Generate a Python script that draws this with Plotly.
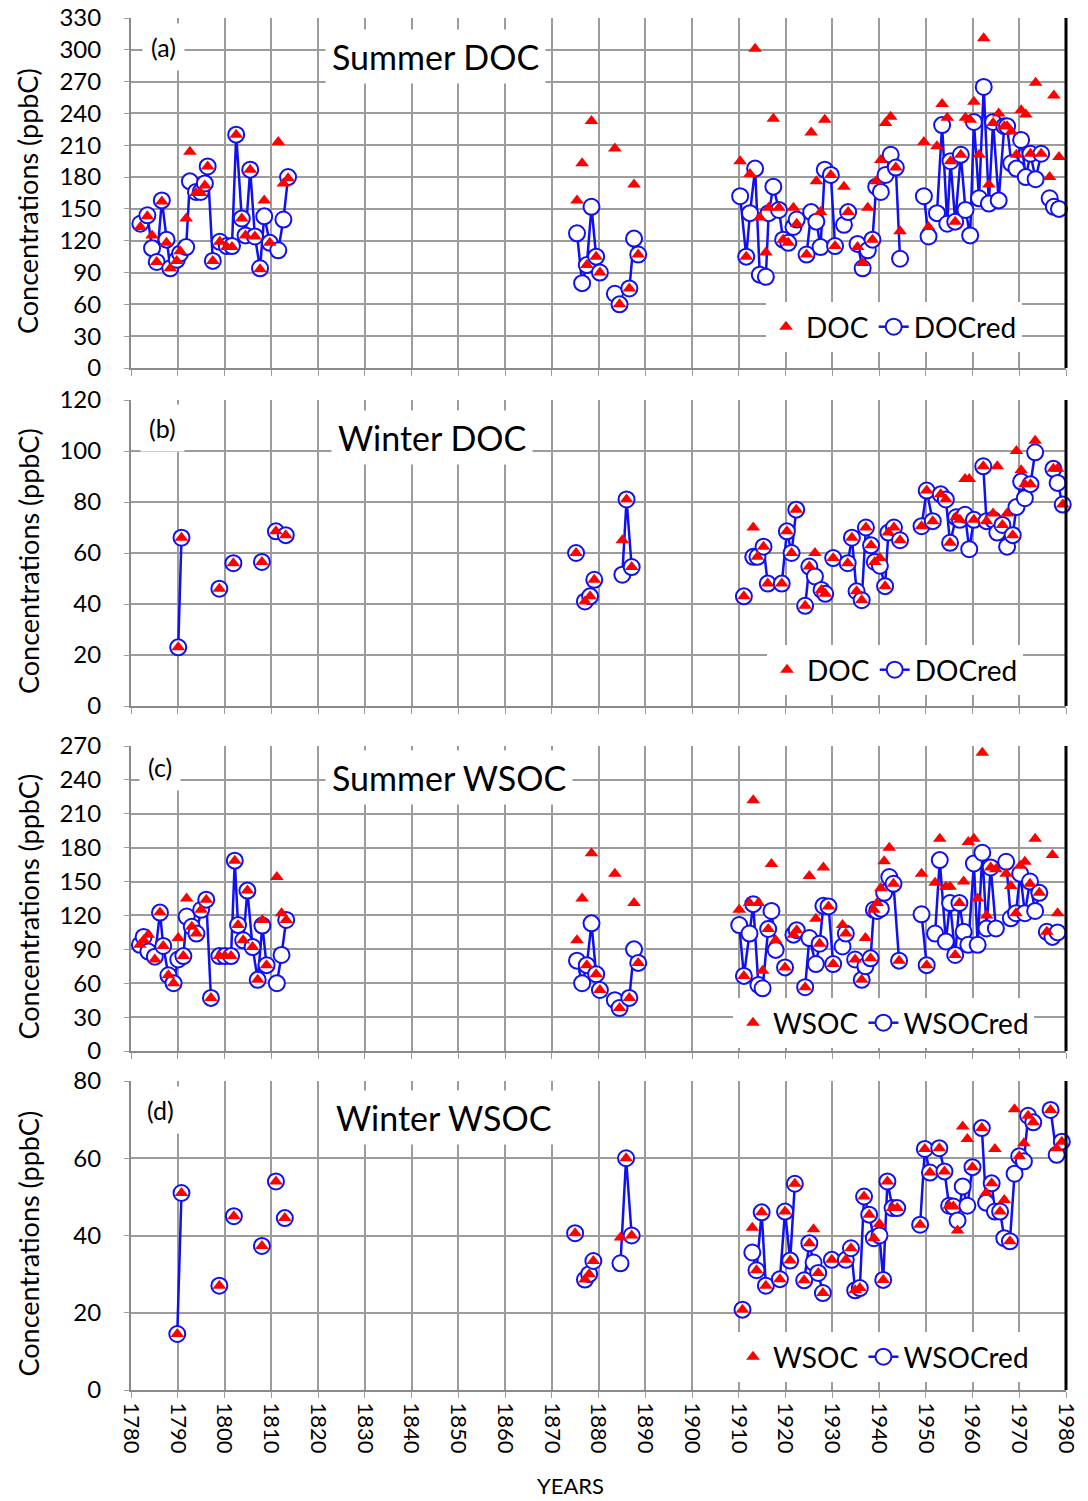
import plotly.graph_objects as go

N = None
# ---------------- Panel (a) Summer DOC ----------------
a_years = [1782.0, 1783.5, 1784.5, 1785.5, 1786.6, 1787.6, 1788.4, 1789.8, 1790.5, 1791.8, 1792.6, 1793.9,
           1794.9, 1795.8, 1796.4, 1797.5, 1798.3, 1799.0, 1800.5, 1801.6, 1802.5, 1803.7, 1804.5, 1805.5,
           1806.5, 1807.6, 1808.5, 1809.7, 1810.6, 1811.5, 1812.6, 1813.6, 1840.0,
           1875.4, 1876.5, 1877.5, 1878.5, 1879.5, 1880.3, 1881.5, 1883.5, 1884.5, 1885.5, 1886.6, 1887.6,
           1888.5, 1900.0,
           1910.3, 1911.6, 1912.4, 1913.5, 1914.5, 1915.8, 1916.4, 1917.4, 1918.6, 1919.5, 1920.6, 1921.7,
           1922.4, 1923.4, 1924.5, 1925.5, 1926.6, 1927.5, 1928.4, 1929.7, 1930.6, 1931.5, 1932.5, 1933.4,
           1934.4, 1935.4, 1936.5, 1937.6, 1938.6, 1939.4, 1940.4, 1941.4, 1942.5, 1943.6, 1944.5, 1947.0,
           1949.6, 1950.6, 1951.5, 1952.4, 1953.5, 1954.6, 1955.3, 1956.3, 1957.5, 1958.5, 1959.5, 1960.3,
           1961.4, 1962.4, 1963.5, 1964.4, 1965.6, 1966.8, 1967.4, 1968.3, 1969.4, 1970.4, 1971.4, 1972.4,
           1973.5, 1974.7, 1975.5, 1976.5, 1977.4, 1978.5]
a_doc = [133, 143, 125, 100, 157, 118, 94, 101, 110, 141, 204, 165,
         165, 172, 190, 101, N, 119, 114, 114, 220, 141, 125, 187,
         124, 93, 158, 118, N, 213, 174, 179, N,
         158, 193, 97, 233, 105, 90, N, 207, 60, N, 75, 173,
         107, N,
         195, 105, 183, 301, 142, 109, 151, 235, 151, 121, 118, 151,
         136, N, 107, 222, 176, 147, 234, 182, 115, N, 171, 147,
         N, 114, 99, 151, 121, 176, 196, 231, 237, 189, 129, N,
         213, 133, N, 209, 249, 236, 195, 138, 201, 236, 234, 251,
         201, 311, 173, 231, 240, 228, 228, 223, 201, 243, 239, 202,
         269, 202, N, 180, 257, 199]
a_docred = [136, 144, 113, 100, 158, 121, 94, 102, 108, 114, 176, 166,
            166, 174, 190, 101, N, 119, 115, 115, 220, 141, 125, 187,
            124, 94, 143, 118, N, 111, 140, 180, N,
            127, 80, 97, 152, 105, 90, N, 70, 60, N, 75, 122,
            107, N,
            162, 105, 146, 188, 88, 86, 146, 171, 149, 121, 118, 133,
            140, N, 107, 147, 138, 114, 187, 182, 115, N, 135, 147,
            N, 117, 94, 111, 121, 171, 166, 182, 201, 189, 103, N,
            162, 124, N, 146, 229, 136, 195, 138, 201, 149, 125, 232,
            160, 265, 155, 232, 158, 228, 228, 193, 188, 215, 180, 202,
            178, 202, N, 160, 152, 150]

# ---------------- Panel (b) Winter DOC ----------------
b_years = [1790.1, 1790.8, 1795.0, 1798.9, 1800.5, 1801.9, 1805.0, 1808.0, 1809.5, 1811.0, 1812.0, 1813.1, 1840.0,
           1875.2, 1876.2, 1877.1, 1878.2, 1879.1, 1882.0, 1885.1, 1886.0, 1887.1, 1900.0,
           1911.1, 1912.1, 1913.1, 1914.0, 1915.3, 1916.2, 1917.5, 1919.2, 1920.3, 1921.3, 1922.3, 1923.2,
           1924.2, 1925.1, 1926.3, 1927.7, 1928.5, 1929.3, 1930.2, 1931.5, 1933.3, 1934.2, 1935.2, 1936.3,
           1937.2, 1938.3, 1939.1, 1940.2, 1941.3, 1942.0, 1943.2, 1944.5, 1947.0,
           1949.1, 1950.2, 1951.5, 1952.3, 1953.2, 1954.3, 1955.2, 1956.5, 1957.3, 1958.4, 1959.3, 1960.3,
           1961.3, 1962.3, 1963.0, 1964.4, 1965.3, 1966.4, 1967.4, 1968.6, 1969.4, 1970.4, 1971.2, 1972.4,
           1973.4, 1975.5, 1977.3, 1978.2, 1979.3]
b_doc = [23, 66, N, 46, N, 56, N, 56.5, N, 68.5, N, 67, N,
         60, N, 41, 43, 49.5, N, 65, 81, 54.5, N,
         43, N, 70, 58.5, 62.5, 48, N, 48, 68.5, 60, 77, N,
         39.3, 54.7, 60, 45.5, 44, N, 58, N, 56, 66, 45, 41.5,
         70, 63, 56.5, 58, 47, 68, 70, 65, N,
         70.5, 84.5, 72.5, N, 83, 81, 64, 74, 73, 89, 89, 73,
         N, 94, 72.5, 75.5, 94, 71, 75.5, 67, 100, 92.5, 87, 87,
         104, N, 93, 93, 79]
b_docred = [23, 66, N, 46, N, 56, N, 56.5, N, 68.5, N, 67, N,
            60, N, 41, 43, 49.5, N, 51.5, 81, 54.5, N,
            43, N, 58.5, 58.5, 62.5, 48, N, 48, 68.5, 60, 77, N,
            39.3, 54.7, 50.8, 45.5, 44, N, 58, N, 56, 66, 45, 41.5,
            70, 63, 56.5, 55, 47, 68, 70, 65, N,
            70.5, 84.5, 72.5, N, 83, 81, 64, 74, 73, 75, 61.5, 73,
            N, 94, 72.5, 73, 68, 71, 62.5, 67, 78, 88, 81.5, 87,
            99.5, N, 93, 87.5, 79]

# ---------------- Panel (c) Summer WSOC ----------------
c_years = [1781.9, 1782.7, 1783.7, 1785.1, 1786.2, 1786.9, 1788.0, 1789.1, 1790.1, 1791.2, 1791.9, 1793.0,
           1794.0, 1795.0, 1796.1, 1797.1, 1798.0, 1798.9, 1800.1, 1801.4, 1802.2, 1802.9, 1804.0, 1804.9,
           1806.0, 1807.1, 1808.1, 1809.0, 1810.1, 1811.2, 1812.2, 1813.2, 1840.0,
           1875.4, 1876.5, 1877.5, 1878.5, 1879.5, 1880.3, 1881.5, 1883.5, 1884.5, 1885.5, 1886.6, 1887.6,
           1888.5, 1900.0,
           1910.1, 1911.1, 1912.3, 1913.1, 1914.2, 1915.1, 1916.3, 1917.0, 1917.9, 1918.9, 1919.9, 1920.8,
           1921.7, 1922.4, 1923.3, 1924.2, 1925.1, 1926.5, 1927.3, 1928.1, 1929.2, 1930.2, 1931.2, 1932.2,
           1932.9, 1933.9, 1934.9, 1936.3, 1937.1, 1938.2, 1938.9, 1939.6, 1940.4, 1941.1, 1942.2, 1943.1,
           1944.3, 1947.0, 1949.1, 1950.2, 1951.1, 1952.0, 1953.0, 1954.3, 1955.2, 1956.3, 1957.2, 1958.1,
           1959.1, 1960.3, 1961.1, 1962.1, 1963.0, 1963.9, 1965.0, 1966.1, 1967.2, 1968.2, 1969.3, 1970.2,
           1971.2, 1972.3, 1973.4, 1974.3, 1975.1, 1975.9, 1977.1, 1978.2]
c_wsoc = [94, 98, 103, 81, 122.5, 93, 67, 60, 100, 84, 135, 110,
          104, 125, 134, 47, N, 84, 84, 84, 168.5, 111.5, 98, 142,
          92, 63, 116, 76, N, 154, 122, 116, N,
          98, 135, 76, 175, 68, 54, N, 157, 38, N, 47, 131,
          78, N,
          125, 66.5, 131, 222, 131, 71, 108, 165.5, 98, N, 74, N,
          103, 107, N, 56.5, 155, 117, 95, 162.5, 128, 77, N, 111.5,
          104, N, 81, 63, 100, 82, 125, 131, 144, 168, 180, 148,
          80, N, 157, 76, N, 149, 188, 145.5, 145.5, 85, 131, 150,
          185, 188, 135, 264, 120, 162.5, 161, N, 157, 146, 122, 164,
          167.5, 148, 188, 140, N, 105.5, 173.5, 122]
c_wsocred = [94, 101, 88, 83.5, 122.5, 93, 67, 60, 81, 84, 119, 110,
             104, 125, 134, 47, N, 84, 84, 84, 168.5, 111.5, 98, 142,
             92, 63, 111, 76, N, 60, 85, 116, N,
             80, 60, 76, 113, 68, 54, N, 45, 38, N, 47, 90,
             78, N,
             111.5, 66.5, 104, 130, 58.5, 55.5, 108, 124, 89.5, N, 74, N,
             103, 107, N, 56.5, 100, 77, 95, 128.5, 128, 77, N, 92.5,
             104, N, 81, 63, 75, 82, 125, 124, 126, 140, 154, 148,
             80, N, 121, 76, N, 104, 169, 97, 131, 85, 131, 105.5,
             94, 166, 94, 175.5, 108.5, 162.5, 108.5, N, 167.5, 117.5, 122, 157,
             122, 150, 124, 140, N, 105.5, 101, 105]

# ---------------- Panel (d) Winter WSOC ----------------
d_years = [1789.9, 1790.8, 1795.0, 1798.9, 1800.5, 1802.0, 1805.0, 1808.0, 1809.5, 1811.0, 1812.0, 1812.9, 1840.0,
           1875.0, 1876.0, 1877.1, 1878.0, 1878.9, 1882.0, 1884.7, 1885.9, 1887.1, 1900.0,
           1910.8, 1911.9, 1912.9, 1913.8, 1914.9, 1915.8, 1917.3, 1918.8, 1919.9, 1921.0, 1922.0, 1923.0,
           1924.0, 1925.1, 1926.0, 1927.0, 1928.0, 1929.0, 1929.9, 1931.4, 1932.9, 1934.0, 1934.9, 1935.9,
           1936.8, 1937.9, 1938.9, 1940.1, 1940.9, 1941.8, 1942.9, 1943.9, 1946.0,
           1948.8, 1949.8, 1950.9, 1951.9, 1952.9, 1954.0, 1955.0, 1955.9, 1956.8, 1957.9, 1958.9, 1960.0,
           1961.0, 1962.0, 1962.9, 1964.1, 1964.8, 1965.9, 1966.8, 1968.0, 1969.0, 1970.0, 1971.0, 1971.9,
           1973.0, 1975.0, 1976.7, 1978.0, 1979.1]
d_wsoc = [14.5, 51, N, 27, N, 45, N, 37.3, N, 54, N, 44.5, N,
          40.6, N, 28.6, 30, 33.4, N, 39.5, 60, 40, N,
          20.8, N, 42, 31, 46, 27, N, 28.7, 46.2, 33.5, 53.4, N,
          28.4, 38, 41.6, 30.3, 25.1, N, 33.7, N, 33.7, 36.7, 25.8, 26.4,
          50.1, 45.4, 39.3, 43, 28.5, 54, 47.1, 47.1, N,
          42.8, 62.4, 56.3, N, 62.6, 56.6, 47.7, 47.5, 41.3, 68.2, 65, 57.7,
          N, 67.8, 51, 53.5, 62.4, 46.2, 49.2, 38.5, 72.7, 60.5, 63.9, 71,
          69.3, N, 72.5, 62.6, 64.3]
d_wsocred = [14.5, 51, N, 27, N, 45, N, 37.3, N, 54, N, 44.5, N,
             40.6, N, 28.6, 30, 33.4, N, 32.8, 60, 40, N,
             20.8, N, 35.6, 31, 46, 27, N, 28.7, 46.2, 33.5, 53.4, N,
             28.4, 38, 33, 30.3, 25.1, N, 33.7, N, 33.7, 36.7, 25.8, 26.4,
             50.1, 45.4, 39.3, 40, 28.5, 54, 47.1, 47.1, N,
             42.8, 62.4, 56.3, N, 62.6, 56.6, 47.7, 47.5, 43.9, 52.7, 47.7, 57.7,
             N, 67.8, 48.5, 53.5, 46.2, 46.2, 39.3, 38.5, 56, 60.5, 59.2, 71,
             69.3, N, 72.5, 60.9, 64.3]

x_ticks = list(range(1780, 1981, 10))

# ---------------- layout helpers ----------------
# body margin is removed by a small post script, so the figure fills the window from (0, 0)
OFF = 0
W, H = 1088, 1501
ML, MR, MT, MB = 131, 22, 18, 111
PW, PH = W - ML - MR, H - MT - MB


def px(x):  # screenshot pixel x -> paper fraction
    return (x - OFF - ML) / PW


def py(y):  # screenshot pixel y -> paper fraction
    return (H - MB - (y - OFF)) / PH


FONT = "Lato, 'Open Sans', sans-serif"
BLUE = "#1010f0"
RED = "#ff0000"
GRID = "#9c9c9c"

panels = [
    dict(top=18, bot=368, ymax=330, dtick=30, title="Summer DOC", lab="(a)", tx=435, ty=57, lx=163, ly=47,
         names=("DOC", "DOCred"), data=(a_years, a_doc, a_docred), legx=766, legy=352),
    dict(top=400, bot=706, ymax=120, dtick=20, title="Winter DOC", lab="(b)", tx=432, ty=437, lx=162, ly=428,
         names=("DOC", "DOCred"), data=(b_years, b_doc, b_docred), legx=767, legy=695),
    dict(top=746, bot=1051, ymax=270, dtick=30, title="Summer WSOC", lab="(c)", tx=449, ty=777, lx=160, ly=767,
         names=("WSOC", "WSOCred"), data=(c_years, c_wsoc, c_wsocred), legx=733, legy=1048),
    dict(top=1081, bot=1390, ymax=80, dtick=20, title="Winter WSOC", lab="(d)", tx=443, ty=1117, lx=160, ly=1110,
         names=("WSOC", "WSOCred"), data=(d_years, d_wsoc, d_wsocred), legx=733, legy=1382),
]

fig = go.Figure()
layout = dict(width=W, height=H, margin=dict(l=ML, r=MR, t=MT, b=MB, autoexpand=False),
              paper_bgcolor="white", plot_bgcolor="white", font=dict(family=FONT, color="black"),
              showlegend=True)
annotations = []
shapes = []

for i, p in enumerate(panels):
    k = "" if i == 0 else str(i + 1)
    xa, ya = "x" + k, "y" + k
    leg = "legend" + k
    years, v, vred = p["data"]
    fig.add_trace(go.Scatter(
        x=years, y=vred, mode="lines+markers", name=p["names"][1], xaxis=xa, yaxis=ya,
        connectgaps=False, line=dict(color=BLUE, width=2.5),
        marker=dict(symbol="circle", size=16, color="white", line=dict(color=BLUE, width=2)),
        legend=leg, legendrank=2, cliponaxis=False))
    fig.add_trace(go.Scatter(
        x=years, y=v, mode="markers", name=p["names"][0], xaxis=xa, yaxis=ya,
        marker=dict(symbol="triangle-up", size=12, color=RED, line=dict(width=0)),
        legend=leg, legendrank=1, cliponaxis=False))
    dom = [py(p["bot"]), py(p["top"])]
    last = (i == len(panels) - 1)
    layout["xaxis" + k] = dict(
        domain=[0, 1], anchor=ya, range=[1780, 1980], tickvals=x_ticks,
        ticktext=[str(t) for t in x_ticks], showticklabels=last, tickangle=90,
        tickfont=dict(size=22), ticks="outside", ticklen=6, tickcolor=GRID,
        ticklabeloverflow="allow",
        showgrid=True, gridcolor=GRID, gridwidth=1.5, showline=True, linecolor="#8a8a8a",
        linewidth=2, zeroline=False)
    layout["yaxis" + k] = dict(
        domain=dom, anchor=xa, range=[0, p["ymax"]], dtick=p["dtick"], tick0=0,
        tickfont=dict(size=24), ticks="outside", ticklen=5, tickcolor=GRID,
        ticklabelstandoff=18, ticklabeloverflow="allow",
        showgrid=True, gridcolor=GRID, gridwidth=1.5, showline=True, linecolor="#8a8a8a",
        linewidth=2, zeroline=False)
    layout[leg] = dict(
        orientation="h", x=px(p["legx"]), y=py(p["legy"]), xanchor="left", yanchor="bottom",
        xref="paper", yref="paper", bgcolor="white", font=dict(size=28), itemwidth=30,
        tracegroupgap=0, traceorder="normal")
    mid_px = (p["top"] + p["bot"]) / 2 + 8
    annotations.append(dict(text="Concentrations (ppbC)", xref="paper", yref="paper",
                            x=px(28), y=py(mid_px), textangle=-90, showarrow=False,
                            font=dict(size=27), xanchor="center", yanchor="middle"))
    annotations.append(dict(text=p["title"], xref="paper", yref="paper", x=px(p["tx"]), y=py(p["ty"]),
                            showarrow=False, font=dict(size=34), bgcolor="white", borderpad=6,
                            xanchor="center", yanchor="middle"))
    annotations.append(dict(text=p["lab"], xref="paper", yref="paper", x=px(p["lx"]), y=py(p["ly"]),
                            showarrow=False, font=dict(size=25), bgcolor="white", borderpad=8,
                            xanchor="center", yanchor="middle"))
    shapes.append(dict(type="line", xref="paper", yref="paper", x0=1, x1=1, y0=dom[0], y1=dom[1],
                       line=dict(color="black", width=3)))

annotations.append(dict(text="YEARS", xref="paper", yref="paper", x=px(570), y=py(1485), showarrow=False,
                        font=dict(size=22), xanchor="center", yanchor="middle"))
layout["annotations"] = annotations
layout["shapes"] = shapes
fig.update_layout(**layout)
fig.write_html("out.html", config={"displayModeBar": False},
               post_script="document.body.style.margin='0';")
